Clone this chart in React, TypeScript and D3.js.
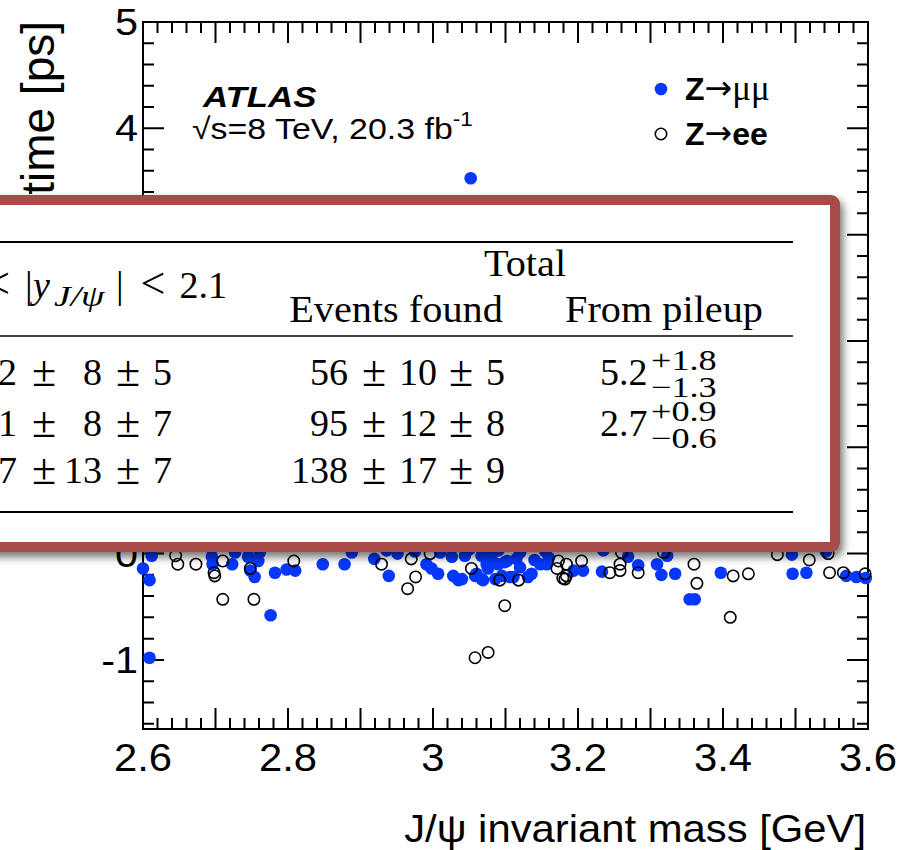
import React from "react";
import * as d3 from "d3";

// J/psi candidates: [invariant mass (GeV), pseudo-proper time (ps)]
const muPoints: [number, number][] = [
  [2.6, -0.14], [2.609, -0.25], [2.612, -0.02], [2.609, -0.98], [2.696, -0.1], [2.695, -0.03],
  [2.723, -0.1], [2.727, 0.01], [2.745, -0.03], [2.748, -0.16], [2.754, -0.22], [2.759, -0.07],
  [2.761, 0.01], [2.776, -0.58], [2.782, -0.18], [2.798, -0.15], [2.81, -0.16], [2.848, -0.1],
  [2.878, -0.1], [2.888, 0.01], [2.919, -0.05], [2.939, -0.21], [2.936, 0.03], [2.951, 0.0],
  [2.975, 0.02], [2.991, -0.1], [2.998, -0.14], [3.007, -0.19], [3.01, 0.01], [3.026, -0.03],
  [3.028, -0.21], [3.035, -0.25], [3.04, -0.24], [3.044, -0.02], [3.05, 0.04], [3.058, -0.21],
  [3.06, -0.19], [3.067, -0.24], [3.067, -0.02], [3.069, -0.25], [3.074, -0.1], [3.076, -0.14],
  [3.081, -0.02], [3.086, -0.24], [3.09, -0.1], [3.09, 0.03], [3.095, -0.21], [3.099, -0.08],
  [3.102, -0.07], [3.106, -0.22], [3.111, -0.22], [3.115, -0.05], [3.12, -0.13], [3.12, 0.01],
  [3.131, -0.22], [3.136, -0.19], [3.14, -0.06], [3.148, -0.1], [3.155, 0.02], [3.157, -0.1],
  [3.16, -0.04], [3.194, -0.16], [3.207, -0.16], [3.233, -0.17], [3.235, 0.03], [3.269, -0.03],
  [3.283, -0.11], [3.309, -0.1], [3.315, -0.2], [3.323, -0.02], [3.334, -0.19], [3.354, -0.43],
  [3.361, -0.43], [3.397, -0.18], [3.495, -0.01], [3.496, -0.19], [3.515, -0.18], [3.542, 0.02],
  [3.57, -0.21], [3.584, -0.22], [3.597, -0.23], [3.052, 3.53],
];

const eePoints: [number, number][] = [
  [2.645, -0.02], [2.648, -0.1], [2.673, -0.1], [2.698, -0.18], [2.699, -0.21], [2.71, -0.07],
  [2.71, -0.43], [2.748, -0.14], [2.753, -0.43], [2.808, -0.07], [2.929, -0.1], [2.97, -0.05],
  [2.976, -0.22], [2.965, -0.33], [2.996, 0.0], [3.053, -0.14], [3.092, -0.25], [3.099, -0.49],
  [3.058, -0.98], [3.076, -0.93], [3.118, -0.25], [3.173, -0.07], [3.171, -0.14], [3.184, -0.1],
  [3.184, -0.21], [3.182, -0.24], [3.179, -0.23], [3.205, -0.07], [3.244, -0.18], [3.258, -0.16],
  [3.258, -0.1], [3.26, 0.01], [3.283, -0.18], [3.318, 0.01], [3.36, -0.1], [3.364, -0.28],
  [3.41, -0.6], [3.414, -0.21], [3.435, -0.19], [3.475, -0.01], [3.519, -0.06], [3.545, 0.0],
  [3.547, -0.18], [3.566, -0.18], [3.596, -0.19],
];

const xTickLabels = ["2.6", "2.8", "3", "3.2", "3.4", "3.6"];
const yTickLabels = ["-1", "0", "1", "2", "3", "4", "5"];

const legendEntries = [
  { label: "μμ", filled: true },
  { label: "ee", filled: false },
];

// Event-count table: rapidity bin column and total column
const forwardRows: [string, string, string][] = [
  ["22", "8", "5"],
  ["41", "8", "7"],
  ["67", "13", "7"],
];
const totalRows: [string, string, string][] = [
  ["56", "10", "5"],
  ["95", "12", "8"],
  ["138", "17", "9"],
];
const pileupRows: { c: string; up: string; dn: string }[] = [
  { c: "5.2", up: "+1.8", dn: "−1.3" },
  { c: "2.7", up: "+0.9", dn: "−0.6" },
];

const BLUE = "#0537ff";
const SANS = "'Liberation Sans', Arial, Helvetica, sans-serif";
const SERIF = "'Liberation Serif', 'Times New Roman', serif";

function SText({ x, y, sx = 1, children, ...rest }: any) {
  return (
    <text transform={`translate(${x},${y}) scale(${sx},1)`} {...rest}>
      {children}
    </text>
  );
}

export default function App() {
  const W = 913;
  const H = 850;
  const x = d3.scaleLinear().domain([2.6, 3.6]).range([143, 868]);
  const y = d3.scaleLinear().domain([-1.65, 5]).range([729, 22]);
  const [x0, x1] = x.range();
  const [yb, yt] = y.range();

  const xMajor = d3.range(0, 11).map((i) => 2.6 + i * 0.1);
  const xMinor = d3.range(0, 51).map((i) => 2.6 + i * 0.02);
  const yMajor = d3.range(-1, 6);
  const yMinor = d3.range(-8, 26).map((i) => i * 0.2);

  const majL = 21;
  const minL = 11;

  const tickPath: string[] = [];
  xMinor.forEach((v) => {
    const px = x(v);
    tickPath.push(`M${px},${yb}V${yb - minL}`, `M${px},${yt}V${yt + minL}`);
  });
  xMajor.forEach((v) => {
    const px = x(v);
    tickPath.push(`M${px},${yb}V${yb - majL}`, `M${px},${yt}V${yt + majL}`);
  });
  yMinor.forEach((v) => {
    const py = y(v);
    if (py > yb || py < yt) return;
    tickPath.push(`M${x0},${py}H${x0 + minL}`, `M${x1},${py}H${x1 - minL}`);
  });
  yMajor.forEach((v) => {
    const py = y(v);
    tickPath.push(`M${x0},${py}H${x0 + majL}`, `M${x1},${py}H${x1 - majL}`);
  });

  const r = 6.3;

  // table layout
  const boxTop = 200;
  const boxBottom = 547;
  const boxRight = 835;
  const rule1 = 242;
  const rule2 = 336;
  const rule3 = 512;
  const rowBase = [385, 436, 483];
  const fs = 38;
  const tsx = 1.06;
  const pmProps = { fontSize: 44, textAnchor: "middle" };

  const cells = (row: [string, string, string], i: number, xs: number[], key: string) => (
    <g key={key}>
      <SText x={xs[0]} y={rowBase[i]} fontSize={fs} textAnchor="end">{row[0]}</SText>
      <SText x={xs[1]} y={rowBase[i] + 1} {...pmProps}>±</SText>
      <SText x={xs[2]} y={rowBase[i]} fontSize={fs} textAnchor="end">{row[1]}</SText>
      <SText x={xs[3]} y={rowBase[i] + 1} {...pmProps}>±</SText>
      <SText x={xs[4]} y={rowBase[i]} fontSize={fs} textAnchor="end">{row[2]}</SText>
    </g>
  );

  return (
    <svg
      width={W}
      height={H}
      style={{ position: "absolute", left: 0, top: 0, background: "#fff" }}
      fontFamily={SANS}
    >
      <defs>
        <filter id="boxShadow" x="-10%" y="-10%" width="130%" height="130%">
          <feDropShadow dx="3" dy="5" stdDeviation="4" floodColor="#000" floodOpacity="0.55" />
        </filter>
      </defs>
      <rect x={0} y={0} width={W} height={H} fill="#fff" />

      {/* frame and ticks */}
      <rect x={x0} y={yt} width={x1 - x0} height={yb - yt} fill="none" stroke="#000" strokeWidth={2} />
      <path d={tickPath.join("")} stroke="#000" strokeWidth={2} fill="none" />

      {/* markers */}
      {muPoints.map(([mx, my], i) => (
        <circle key={`m${i}`} cx={x(mx)} cy={y(my)} r={r} fill={BLUE} />
      ))}
      {eePoints.map(([mx, my], i) => (
        <circle key={`e${i}`} cx={x(mx)} cy={y(my)} r={r - 0.6} fill="none" stroke="#000" strokeWidth={1.6} />
      ))}

      {/* tick labels */}
      {xTickLabels.map((t) => (
        <SText key={t} x={x(+t)} y={771} sx={1.1} fontSize={38} textAnchor="middle">
          {t}
        </SText>
      ))}
      {yTickLabels.map((t) => (
        <SText key={t} x={138} y={y(+t) + 13} sx={1.12} fontSize={37} textAnchor="end">
          {t}
        </SText>
      ))}

      {/* axis titles */}
      <SText x={866} y={842} sx={1.1} fontSize={38} textAnchor="end">
        J/ψ invariant mass [GeV]
      </SText>
      <text transform="translate(54,21) rotate(-90)" fontSize={46} textAnchor="end">
        Pseudo-proper time [ps]
      </text>

      {/* experiment label */}
      <SText x={203} y={107} sx={1.2} fontSize={29} fontWeight="bold" fontStyle="italic">
        ATLAS
      </SText>
      <SText x={192} y={139} sx={1.13} fontSize={30}>
        √s=8 TeV, 20.3 fb
        <tspan fontSize={20} dy={-13}>-1</tspan>
      </SText>

      {/* legend */}
      {legendEntries.map((e, i) => {
        const ly = 89 + i * 45;
        return (
          <g key={e.label}>
            {e.filled ? (
              <circle cx={661} cy={ly} r={r} fill={BLUE} />
            ) : (
              <circle cx={661} cy={ly} r={r - 0.6} fill="none" stroke="#000" strokeWidth={1.6} />
            )}
            <text x={685} y={ly + 11} fontSize={32}>
              <tspan fontWeight="bold">Z</tspan>
              <tspan fontFamily="'DejaVu Sans', sans-serif" fontSize={33} dy={-1}>→</tspan>
              {e.filled ? (
                <tspan fontFamily={SERIF} fontSize={35} dy={1}>{e.label}</tspan>
              ) : (
                <tspan fontWeight="bold" dy={1}>{e.label}</tspan>
              )}
            </text>
          </g>
        );
      })}

      {/* event-count table */}
      <g filter="url(#boxShadow)">
        <rect
          x={-30}
          y={boxTop}
          width={boxRight + 30}
          height={boxBottom - boxTop}
          rx={4}
          fill="#fff"
          stroke="#a84c47"
          strokeWidth={10}
        />
      </g>
      <g fontFamily={SERIF} fill="#000">
        {[rule1, rule2, rule3].map((ry, i) => (
          <line key={i} x1={-10} x2={793} y1={ry} y2={ry} stroke="#000" strokeWidth={i === 1 ? 1.5 : 1.9} />
        ))}
        <SText x={10} y={298} fontSize={44} textAnchor="end">1.05 &lt;</SText>
        <SText x={25} y={298} fontSize={fs}>|</SText>
        <SText x={33} y={298} fontSize={fs} fontStyle="italic">y</SText>
        <SText x={54} y={306} sx={1.25} fontSize={30} fontStyle="italic">J/ψ</SText>
        <SText x={116} y={298} fontSize={fs}>|</SText>
        <SText x={153} y={298} fontSize={44} textAnchor="middle">&lt;</SText>
        <SText x={227} y={298} fontSize={fs} textAnchor="end">2.1</SText>
        <SText x={525} y={276} sx={tsx} fontSize={fs} textAnchor="middle">Total</SText>
        <SText x={396} y={322} sx={tsx} fontSize={fs} textAnchor="middle">Events found</SText>
        <SText x={664} y={322} sx={tsx} fontSize={fs} textAnchor="middle">From pileup</SText>

        {forwardRows.map((row, i) => cells(row, i, [17, 44, 102, 128, 172], `f${i}`))}
        {totalRows.map((row, i) => cells(row, i, [348, 374, 437, 461, 505], `t${i}`))}
        {pileupRows.map((row, i) => (
          <g key={`p${i}`}>
            <SText x={600} y={rowBase[i]} fontSize={fs}>{row.c}</SText>
            <SText x={651} y={rowBase[i] - 15} sx={1.25} fontSize={29}>{row.up}</SText>
            <SText x={651} y={rowBase[i] + 12} sx={1.25} fontSize={29}>{row.dn}</SText>
          </g>
        ))}
      </g>
    </svg>
  );
}
